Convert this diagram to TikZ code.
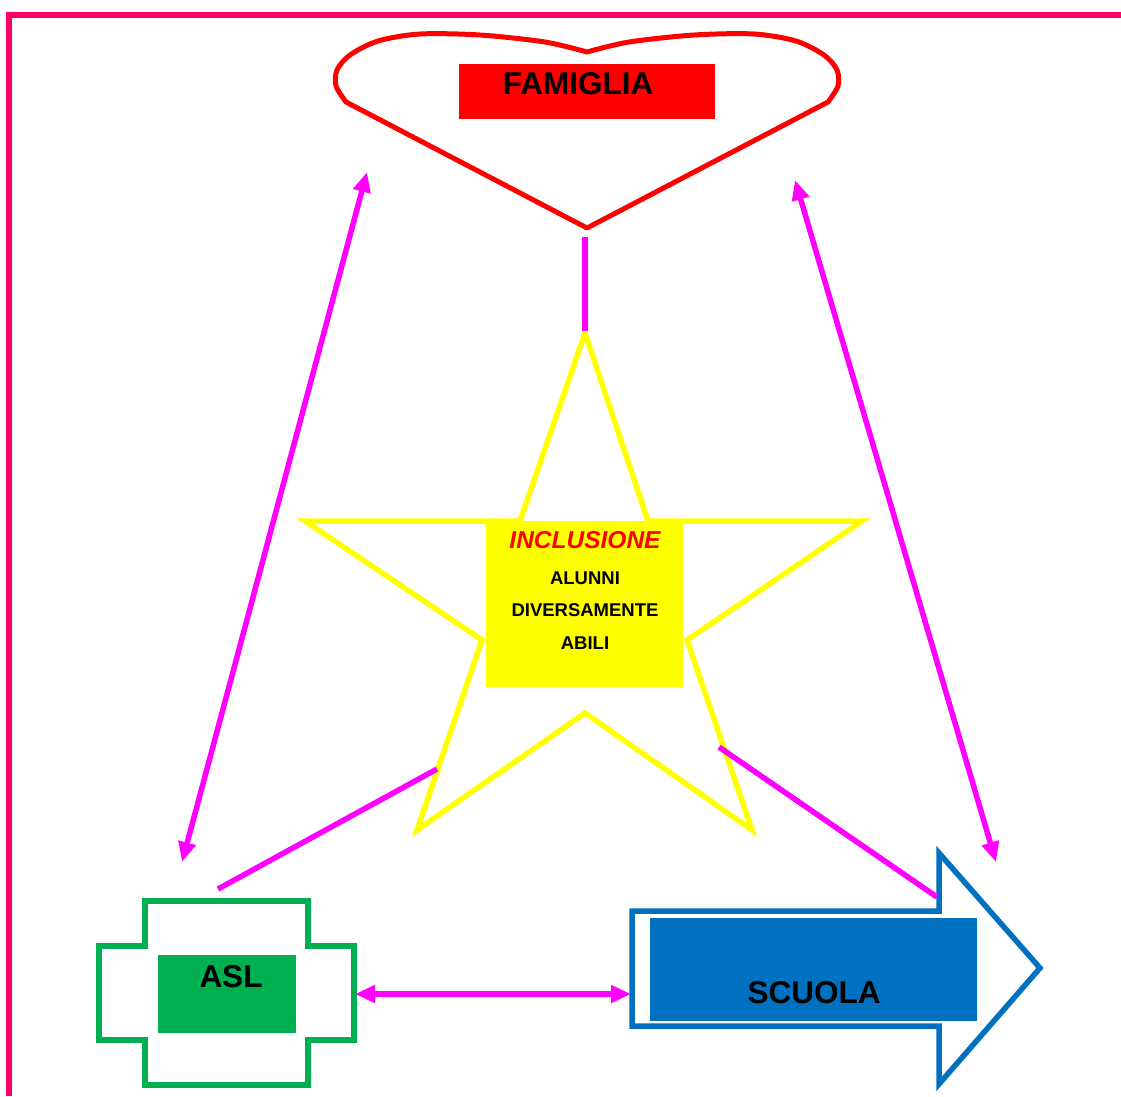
\documentclass[tikz,border=0pt]{standalone}
\usepackage{fontspec}
\setmainfont{Liberation Sans}
\usetikzlibrary{arrows.meta}
\definecolor{bordpink}{HTML}{FF0066}
\definecolor{mag}{HTML}{FF00FF}
\definecolor{aslgreen}{HTML}{00B050}
\definecolor{scblue}{HTML}{0070C0}
\definecolor{pureyellow}{HTML}{FFFF00}
\definecolor{purered}{HTML}{FF0000}
\begin{document}
\begin{tikzpicture}[x=1pt,y=-1pt,
  conn/.style={draw=mag, line width=5.5pt},
  dbl/.style={conn, {Triangle[length=20pt,width=17pt]}-{Triangle[length=20pt,width=17pt]}},
  box/.style={inner sep=0pt, outer sep=0pt, anchor=north west},
  lbl/.style={anchor=base, inner sep=0pt, font=\bfseries\fontsize{31.5}{36}\selectfont},
  small/.style={anchor=base, inner sep=0pt, font=\bfseries\fontsize{18.5}{22}\selectfont}]
\useasboundingbox (0,0) rectangle (1121,1096);
\fill[white] (0,0) rectangle (1121,1096);
% frame
\draw[bordpink, line width=6pt] (9,1096) -- (9,15) -- (1121,15);
% heart
\draw[purered, line width=5pt, line join=round]
  plot[smooth, tension=0.5] coordinates {(587,52) (545,42) (480,35) (420,34) (378,41) (350,55) (337,70) (336,86) (346,102)}
  -- (587,228) --
  plot[smooth, tension=0.5] coordinates {(828,102) (838,86) (837,70) (824,55) (796,41) (754,34) (694,35) (629,42) (587,52)}
  -- cycle;
\node[box, fill=purered, minimum width=256pt, minimum height=55pt] (famiglia) at (459,64) {};
\node[lbl] (famigliatxt) at (578,94) {FAMIGLIA};
% star
\draw[pureyellow, line width=5.5pt] (585,333) -- (648,521) -- (862,521) -- (687,640) -- (752,830) -- (585,713) -- (417,830) -- (482,640) -- (305,521) -- (520,521) -- cycle;
\node[box, fill=pureyellow, minimum width=197pt, minimum height=166pt] (inclusione) at (486,521) {};
\node[anchor=base, inner sep=0pt, text=purered, font=\bfseries\itshape\fontsize{24.5}{28}\selectfont] (incltxt) at (585,548.5) {INCLUSIONE};
\node[small] (alunni) at (585,584.5) {ALUNNI};
\node[small] (divers) at (585,616.5) {DIVERSAMENTE};
\node[small] (abili) at (585,649.5) {ABILI};
% ASL cross
\draw[aslgreen, line width=5.5pt] (145,901) -- (308,901) -- (308,946) -- (354,946) -- (354,1040) -- (308,1040) -- (308,1085) -- (145,1085) -- (145,1040) -- (99,1040) -- (99,946) -- (145,946) -- cycle;
\node[box, fill=aslgreen, minimum width=138pt, minimum height=78pt] (asl) at (158,955) {};
\node[lbl] (asltxt) at (231,987) {ASL};
% SCUOLA arrow
\draw[scblue, line width=5.5pt] (632,911) -- (939,911) -- (939,853) -- (1040,968) -- (939,1084) -- (939,1026) -- (632,1026) -- cycle;
\node[box, fill=scblue, minimum width=327pt, minimum height=103pt] (scuola) at (650,918) {};
\node[lbl] (scuolatxt) at (814,1003) {SCUOLA};
% connector end points
\coordinate (famL) at (367,172);
\coordinate (aslT) at (182,862);
\coordinate (famR) at (795,180);
\coordinate (scuT) at (996,862);
\coordinate (aslR) at (355,994);
\coordinate (scuL) at (631,994);
\coordinate (famB) at (585,237);
\coordinate (starT) at (585,331);
\coordinate (starL) at (437,769);
\coordinate (aslTop) at (218,889);
\coordinate (starR) at (719,747);
\coordinate (scuHead) at (937,897);
% connectors
\draw[dbl] (famL) -- (aslT);
\draw[dbl] (famR) -- (scuT);
\draw[dbl] (aslR) -- (scuL);
\draw[conn] (famB) -- (starT);
\draw[conn] (starL) -- (aslTop);
\draw[conn] (starR) -- (scuHead);
\end{tikzpicture}
\end{document}
